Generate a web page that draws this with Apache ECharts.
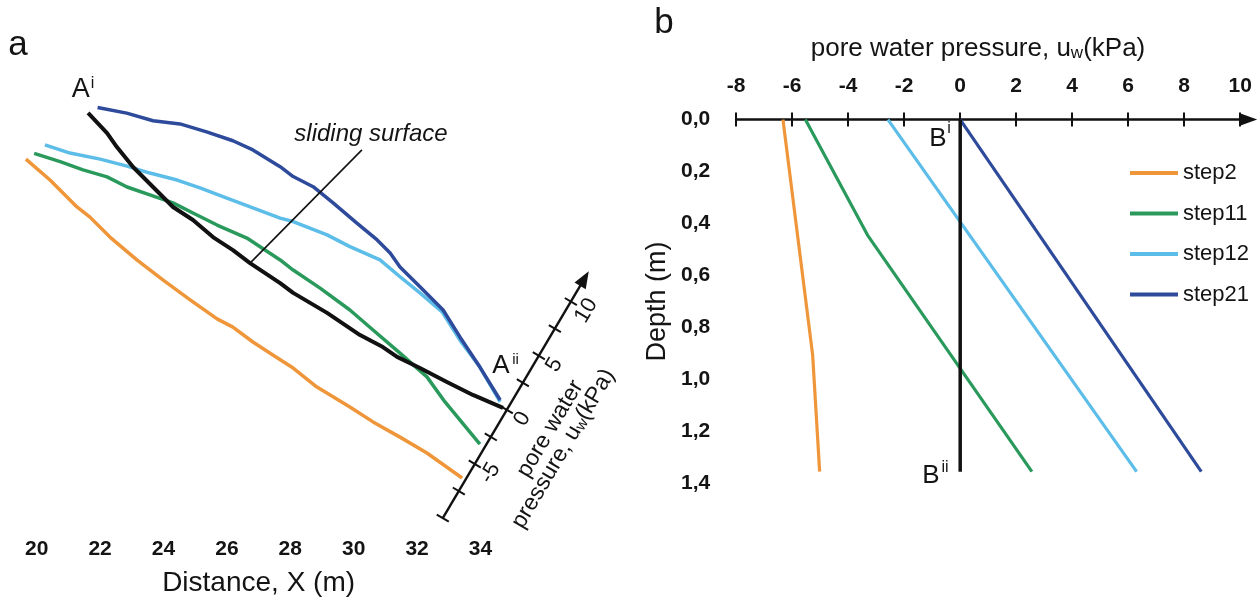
<!DOCTYPE html>
<html><head><meta charset="utf-8">
<script src="https://cdn.jsdelivr.net/npm/echarts@6/dist/echarts.min.js"></script>
<style>html,body{margin:0;padding:0;background:#fff}#c{width:1259px;height:600px}</style>
</head><body><div id="c"></div>
<script>
const FONT = '"Liberation Sans", Arial, Helvetica, sans-serif';
const TXT = '#141414';

// ---------- data ----------
const stepNames = ['step2', 'step11', 'step12', 'step21'];
const stepColors = ['#F0963A', '#2A9A5C', '#5BBDE8', '#2D4A9B'];

// Panel a: profile along the slope, [Distance X (m), relative elevation (m)]
const aStep2 = [[19.66,11.70],[20.42,11.04],[21.27,10.19],[21.68,9.87],[22.31,9.24],[23.16,8.52],[23.98,7.89],[24.84,7.26],[25.69,6.66],[26.19,6.40],[26.82,5.93],[27.45,5.52],[28.09,5.11],[28.84,4.51],[29.88,3.88],[30.61,3.41],[31.46,2.93],[32.31,2.43],[33.42,1.64]];
const aStep11 = [[19.92,11.88],[20.74,11.62],[21.46,11.36],[22.22,11.14],[22.85,10.82],[23.57,10.57],[24.30,10.32],[24.93,10.00],[25.69,9.62],[26.63,9.21],[27.68,8.52],[28.09,8.20],[28.94,7.63],[29.88,6.94],[30.61,6.31],[31.46,5.58],[32.31,4.83],[32.88,4.04],[33.98,2.71]];
const aStep12 = [[20.26,12.15],[21.05,11.89],[22.00,11.70],[22.85,11.48],[23.57,11.26],[24.43,11.04],[25.15,10.79],[26.00,10.47],[26.82,10.16],[27.68,9.84],[28.09,9.73],[29.16,9.31],[29.88,8.94],[30.83,8.52],[31.46,7.99],[32.09,7.48],[32.79,6.88],[33.35,5.99],[33.98,5.14],[34.62,4.04]];
const aStep21 = [[21.92,13.33],[22.84,13.15],[23.67,12.91],[24.52,12.81],[25.36,12.56],[26.19,12.28],[26.82,11.99],[27.68,11.46],[28.09,11.15],[28.72,10.83],[29.35,10.32],[30.10,9.68],[30.74,9.15],[31.15,8.74],[31.46,8.30],[32.09,7.67],[32.82,6.94],[33.35,6.09],[33.98,5.14],[34.62,4.10]];
const aSliding = [[21.62,13.16],[22.22,12.52],[22.53,12.08],[23.04,11.45],[23.67,10.82],[24.30,10.19],[24.93,9.78],[25.56,9.24],[26.19,8.83],[26.73,8.42],[27.68,7.79],[28.09,7.48],[29.16,6.85],[30.20,6.15],[30.92,5.77],[31.37,5.46],[32.09,5.11],[32.94,4.67],[33.76,4.26],[34.71,3.85]];
const aLeader = [[26.73,8.42],[30.26,11.99]];
const distanceTicks = [20, 22, 24, 26, 28, 30, 32, 34];

// Panel a: inclined pore-water-pressure scale (kPa)
const pwTicks = [-10, -7.5, -5, -2.5, 0, 2.5, 5, 7.5, 10];
const pwTickLabels = [-5, 0, 5, 10];
const pwAxisMax = 12.8;
const pwOrigin = [34.83, 3.79];   // where 0 kPa sits on the profile

// Panel b: [pore water pressure (kPa), depth (m)]
const bStep2 = [[-6.33,0],[-5.27,0.905],[-5.02,1.354]];
const bStep11 = [[-5.53,0],[-3.31,0.444],[2.56,1.354]];
const bStep12 = [[-2.58,0],[6.30,1.354]];
const bStep21 = [[0,0],[8.61,1.354]];
const bSection = [[0,0],[0,1.354]];

// ---------- chart ----------
const chart = echarts.init(document.getElementById('c'), null, {renderer: 'canvas'});

function lineSeries(name, data, color, width, xi, yi) {
  return {
    type: 'line', name: name, data: data, xAxisIndex: xi, yAxisIndex: yi,
    showSymbol: false, symbol: 'none', silent: true, animation: false,
    lineStyle: {color: color, width: width, join: 'round', cap: 'butt'},
    itemStyle: {color: color}
  };
}

const series = [];
[aStep2, aStep11, aStep12, aStep21].forEach((d, i) => series.push(lineSeries(stepNames[i], d, stepColors[i], 3.5, 0, 0)));
series.push(lineSeries('sliding', aSliding, '#111', 4, 0, 0));
series.push(lineSeries('leader', aLeader, '#111', 1.6, 0, 0));
[bStep2, bStep11, bStep12, bStep21].forEach((d, i) => series.push(lineSeries(stepNames[i], d, stepColors[i], 3.2, 1, 1)));
series.push(lineSeries('section', bSection, '#111', 3.5, 1, 1));

const tickStyle = {color: '#111', width: 2};

chart.setOption({
  animation: false,
  backgroundColor: '#fff',
  textStyle: {fontFamily: FONT},
  grid: [
    {left: 5, right: 746.8, top: 86.2, bottom: 70, outerBoundsMode: 'none'},
    {left: 736.2, right: 18.8, top: 119.6, bottom: 116.4, outerBoundsMode: 'none'}
  ],
  legend: {
    data: stepNames, orient: 'vertical', left: 1125, top: 157,
    itemWidth: 48, itemHeight: 4, itemGap: 18.5, icon: 'rect', selectedMode: false,
    textStyle: {fontSize: 22, lineHeight: 22, color: TXT, fontFamily: FONT}
  },
  xAxis: [
    {gridIndex: 0, type: 'value', min: 19, max: 35, interval: 1,
     axisLine: {show: false}, axisTick: {show: false}, splitLine: {show: false},
     axisLabel: {margin: 9, fontSize: 21, fontWeight: 'bold', color: TXT, fontFamily: FONT,
       formatter: v => distanceTicks.indexOf(v) >= 0 ? String(v) : ''},
     name: 'Distance, X (m)', nameLocation: 'middle', nameGap: 39,
     nameTextStyle: {fontSize: 28, color: TXT, fontFamily: FONT}},
    {gridIndex: 1, type: 'value', position: 'top', min: -8, max: 10, interval: 2,
     axisLine: {show: true, lineStyle: {color: '#111', width: 2.5}, symbol: ['none', 'triangle'], symbolSize: [13, 18], symbolOffset: [0, 8]},
     axisTick: {show: true, inside: false, length: 7, lineStyle: tickStyle},
     axisLabel: {margin: 23, fontSize: 21, fontWeight: 'bold', color: TXT, fontFamily: FONT},
     splitLine: {show: false}},
    {gridIndex: 1, type: 'value', position: 'top', min: -8, max: 10, interval: 2,
     axisLine: {show: false}, axisTick: {show: true, inside: true, length: 7, lineStyle: tickStyle},
     axisLabel: {show: false}, splitLine: {show: false}}
  ],
  yAxis: [
    {gridIndex: 0, type: 'value', min: 0, max: 14, show: false},
    {gridIndex: 1, type: 'value', min: 0, max: 1.4, interval: 0.2, inverse: true,
     axisLine: {show: false}, axisTick: {show: false}, splitLine: {show: false},
     axisLabel: {margin: 26, fontSize: 21, fontWeight: 'bold', color: TXT, fontFamily: FONT,
       formatter: v => v.toFixed(1).replace('.', ',')},
     name: 'Depth (m)', nameLocation: 'middle', nameGap: 65, nameRotate: 90,
     nameTextStyle: {fontSize: 27, color: TXT, fontFamily: FONT}}
  ],
  series: series
});

function txt(x, y, text, size, extra) {
  return Object.assign({type: 'text', x: x, y: y, silent: true,
    style: Object.assign({text: text, fontSize: size, fontFamily: FONT, fill: TXT, align: 'center', verticalAlign: 'middle'}, extra || {})});
}

function buildGraphic() {
  const o = chart.convertToPixel({gridIndex: 0}, pwOrigin);
  const S = 12.58;                 // px per kPa on the inclined scale
  const rot = 59.4 * Math.PI / 180;
  const kids = [];
  const tip = pwAxisMax * S;
  kids.push({type: 'line', shape: {x1: pwTicks[0] * S, y1: 0, x2: tip - 10, y2: 0}, style: {stroke: '#111', lineWidth: 2.4}});
  pwTicks.forEach(v => kids.push({type: 'line', shape: {x1: v * S, y1: -7, x2: v * S, y2: 7}, style: {stroke: '#111', lineWidth: 2}}));
  kids.push({type: 'polygon', shape: {points: [[tip, 0], [tip - 17, -6.5], [tip - 17, 6.5]]}, style: {fill: '#111'}});
  pwTickLabels.forEach(v => kids.push(txt(v * S, 18, String(v), 22)));
  kids.push(txt(5.7, 47, 'pore water', 23));
  kids.push({type: 'text', x: -4.6, y: 67, silent: true, style: {
    text: '{a|pressure, u}{s|w}{a|(kPa)}', align: 'center', verticalAlign: 'middle',
    rich: {a: {fontSize: 23, fontFamily: FONT, fill: TXT, lineHeight: 26, verticalAlign: 'bottom'},
           s: {fontSize: 15, fontFamily: FONT, fill: TXT, lineHeight: 15, verticalAlign: 'bottom'}}}});
  const group = {type: 'group', x: o[0], y: o[1], rotation: rot, children: kids};

  return [
    group,
    txt(18, 45.5, 'a', 35),
    txt(664, 23, 'b', 35),
    txt(80.7, 90, 'A', 27), txt(92.5, 84, 'i', 16),
    txt(500.8, 366, 'A', 26), txt(515.5, 360, 'ii', 15),
    txt(371, 134, 'sliding surface', 24, {fontStyle: 'italic'}),
    txt(938, 139, 'B', 26), txt(949, 129, 'i', 16),
    txt(931, 476, 'B', 26), txt(945, 468, 'ii', 16),
    {type: 'text', x: 978, y: 47, silent: true, style: {
      text: '{a|pore water pressure, u}{s|w}{a|(kPa)}', align: 'center', verticalAlign: 'middle',
      rich: {a: {fontSize: 26, fontFamily: FONT, fill: TXT, lineHeight: 30, verticalAlign: 'bottom'},
             s: {fontSize: 17, fontFamily: FONT, fill: TXT, lineHeight: 17, verticalAlign: 'bottom'}}}}
  ];
}

chart.setOption({graphic: buildGraphic()});
</script>
</body></html>
